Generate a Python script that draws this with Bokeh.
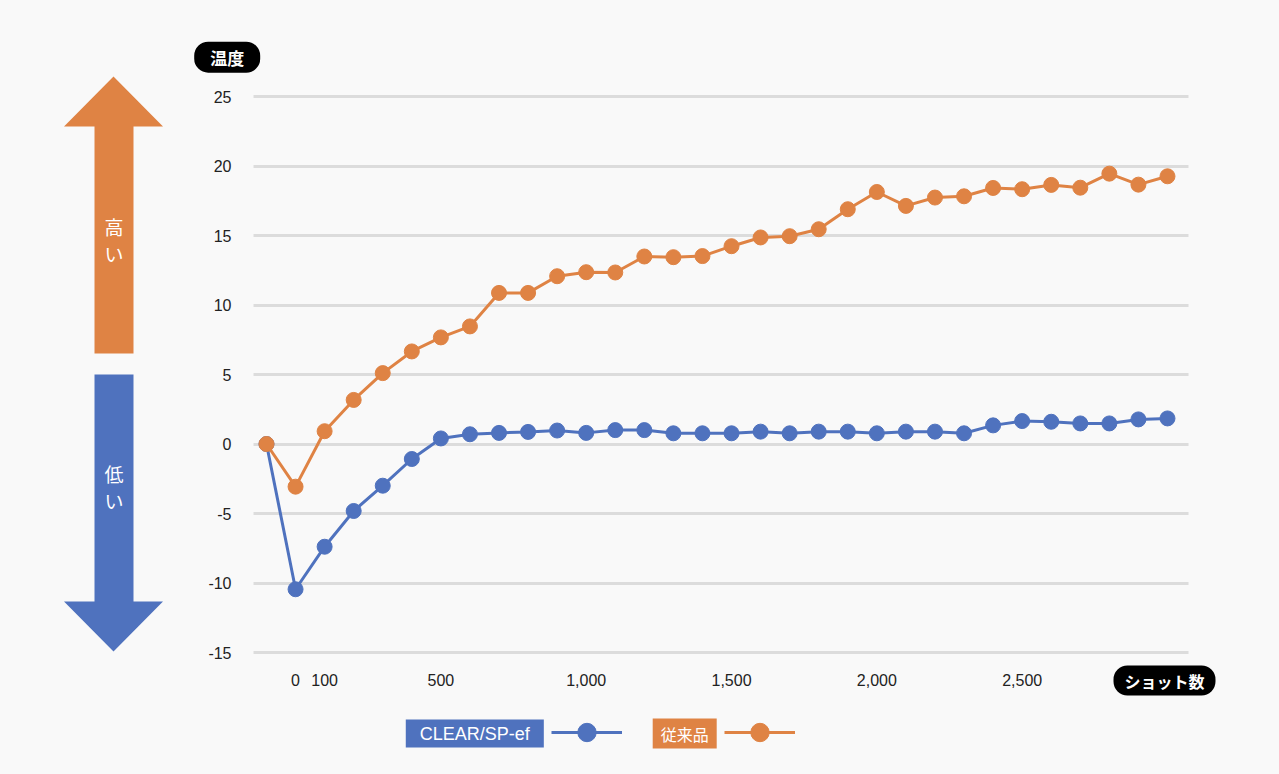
from bokeh.plotting import figure
from bokeh.models import (FixedTicker, NumeralTickFormatter, Label, PolyAnnotation,
                          Legend, LegendItem, Range1d)
from bokeh.embed import file_html
from bokeh.resources import INLINE

# ---------------- data ----------------
shots = [-100, 0, 100, 200, 300, 400, 500, 600, 700, 800, 900, 1000, 1100, 1200, 1300,
         1400, 1500, 1600, 1700, 1800, 1900, 2000, 2100, 2200, 2300, 2400, 2500, 2600,
         2700, 2800, 2900, 3000]
clear_sp = [0, -10.45, -7.39, -4.82, -3.0, -1.08, 0.4, 0.7, 0.8, 0.87, 0.97, 0.8, 1.0, 1.0,
            0.77, 0.77, 0.77, 0.89, 0.77, 0.89, 0.89, 0.77, 0.89, 0.89, 0.77, 1.34, 1.65,
            1.6, 1.48, 1.48, 1.77, 1.84]
conventional = [0, -3.07, 0.92, 3.17, 5.1, 6.66, 7.67, 8.46, 10.87, 10.87, 12.07, 12.36,
                12.34, 13.49, 13.44, 13.52, 14.23, 14.86, 14.95, 15.45, 16.89, 18.13, 17.13,
                17.73, 17.82, 18.42, 18.33, 18.64, 18.44, 19.45, 18.66, 19.26]
y_ticks = [-15, -10, -5, 0, 5, 10, 15, 20, 25]
x_ticks = [0, 100, 500, 1000, 1500, 2000, 2500]
series_names = ["CLEAR/SP-ef", "従来品"]
y_title = "温度"
x_title = "ショット数"
high_text = "高\nい"
low_text = "低\nい"

# ---------------- style / geometry ----------------
BG = "#f9f9f9"
BLUE = "#4f72be"
ORANGE = "#df8344"
GRID = "#dcdcdc"
JP = "Noto Sans CJK JP"
LAT = "Liberation Sans"

W, H = 1279, 774
# plot area (pixels) and its data extent
PL, PR = 253, 1188
XA, XB = -144.7, 3072.3
PT, PB = 96, 652
YA, YB = -15, 25
SX = (PR - PL) / (XB - XA)
SY = (PB - PT) / (YB - YA)
# the frame covers the whole canvas; axes are pinned at the plot-area edges
X0 = XA - PL / SX
X1 = XB + (W - PR) / SX
Y1 = YB + PT / SY
Y0 = YA - (H - PB) / SY


def dx(px):
    return X0 + px / SX


def dy(py):
    return Y1 - py / SY


p = figure(width=W, height=H, title=None,
           x_range=Range1d(X0, X1), y_range=Range1d(Y0, Y1),
           output_backend="svg", toolbar_location=None, min_border=0,
           background_fill_color=BG, border_fill_color=BG, outline_line_color=None)

p.xgrid.grid_line_color = None
p.ygrid.grid_line_color = GRID
p.ygrid.grid_line_width = 3
p.ygrid.ticker = FixedTicker(ticks=y_ticks)
try:
    p.ygrid.cross_bounds = (XA, XB)
    seg_grid = False
except Exception:
    seg_grid = True

if seg_grid:
    p.ygrid.grid_line_color = None
    p.segment(x0=[XA] * len(y_ticks), x1=[XB] * len(y_ticks), y0=y_ticks, y1=y_ticks,
              line_color=GRID, line_width=3, level="underlay")

for ax in (p.xaxis[0], p.yaxis[0]):
    ax.axis_line_color = None
    ax.major_tick_line_color = None
    ax.minor_tick_line_color = None
    ax.major_tick_out = 0
    ax.major_tick_in = 0
    ax.major_label_text_font = LAT
    ax.major_label_text_color = "#222222"

p.yaxis.fixed_location = XA
p.yaxis.ticker = FixedTicker(ticks=y_ticks)
p.yaxis.formatter = NumeralTickFormatter(format="0")
p.yaxis.major_label_text_font_size = "16px"
p.yaxis.major_label_standoff = 22
p.xaxis.fixed_location = dy(654)
p.xaxis.ticker = FixedTicker(ticks=x_ticks)
p.xaxis.formatter = NumeralTickFormatter(format="0,0")
p.xaxis.major_label_text_font_size = "16px"
p.xaxis.major_label_standoff = 19

# ---------------- series ----------------
rb_line = p.line(shots, clear_sp, line_color=BLUE, line_width=3)
rb_pts = p.scatter(shots, clear_sp, size=15, fill_color=BLUE, line_color=BLUE)
ro_line = p.line(shots, conventional, line_color=ORANGE, line_width=3)
ro_pts = p.scatter(shots, conventional, size=15, fill_color=ORANGE, line_color=ORANGE)

# ---------------- high / low arrows ----------------
up = [(113, 76), (162.5, 126), (133, 126), (133, 353), (94, 353), (94, 126), (63.5, 126)]
down = [(94, 374), (133, 374), (133, 601), (162.5, 601), (113, 651), (63.5, 601), (94, 601)]
for pts, col in ((up, ORANGE), (down, BLUE)):
    p.add_layout(PolyAnnotation(xs=[dx(a) for a, b in pts], ys=[dy(b) for a, b in pts],
                                fill_color=col, fill_alpha=1, line_color=None))

p.add_layout(Label(x=dx(113.5), y=dy(239.5), text=high_text, text_align="center",
                   text_baseline="middle", text_color="white", text_font=JP,
                   text_font_size="19px", text_line_height=1.0))
p.add_layout(Label(x=dx(113.5), y=dy(486.5), text=low_text, text_align="center",
                   text_baseline="middle", text_color="white", text_font=JP,
                   text_font_size="19px", text_line_height=1.0))

# axis title pills
p.add_layout(Label(x=dx(226.7), y=dy(56.7), text=y_title, text_align="center",
                   text_baseline="middle", text_color="white", text_font=JP,
                   text_font_size="17px", text_font_style="bold",
                   background_fill_color="black", border_radius=14, padding=(16, 3)))
p.add_layout(Label(x=dx(1164), y=dy(680), text=x_title, text_align="center",
                   text_baseline="middle", text_color="white", text_font=JP,
                   text_font_size="16px", text_font_style="bold",
                   background_fill_color="black", border_radius=14, padding=(11, 3)))

# legend label boxes
p.add_layout(Label(x=dx(474.3), y=dy(733), text=series_names[0], text_align="center",
                   text_baseline="middle", text_color="white", text_font=LAT,
                   text_font_size="18px", background_fill_color=BLUE, padding=(14, 4)))
p.add_layout(Label(x=dx(684.2), y=dy(733), text=series_names[1], text_align="center",
                   text_baseline="middle", text_color="white", text_font=JP,
                   text_font_size="16px", background_fill_color=ORANGE, padding=(8, 3)))

# ---------------- legend keys ----------------
leg_b = Legend(items=[LegendItem(label=" ", renderers=[rb_line, rb_pts])],
               location=(551, H - 755.3), glyph_width=71, glyph_height=46,
               padding=0, margin=0, label_standoff=0, label_width=0,
               border_line_color=None, background_fill_alpha=0)
leg_o = Legend(items=[LegendItem(label=" ", renderers=[ro_line, ro_pts])],
               location=(724, H - 755.3), glyph_width=71, glyph_height=46,
               padding=0, margin=0, label_standoff=0, label_width=0,
               border_line_color=None, background_fill_alpha=0)
p.add_layout(leg_b)
p.add_layout(leg_o)

html = file_html(p, INLINE)
html = html.replace("<head>", "<head><style>body{background:%s;}</style>" % BG, 1)
open("out.html", "w").write(html)
